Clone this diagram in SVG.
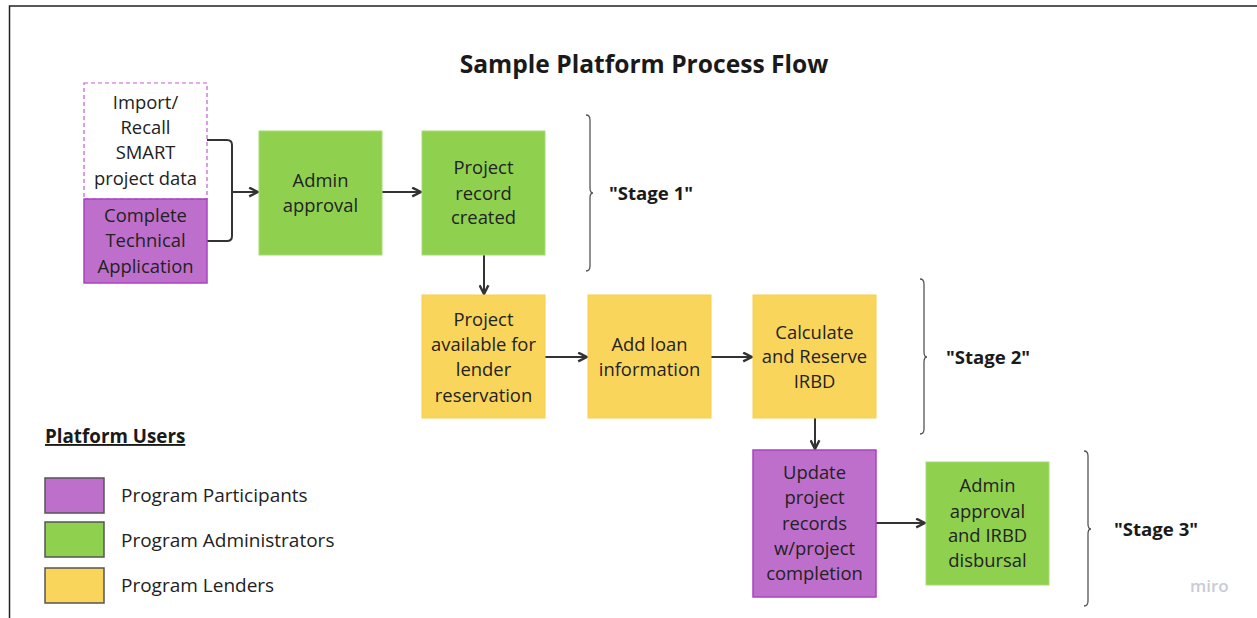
<svg xmlns="http://www.w3.org/2000/svg" width="1257" height="618" viewBox="0 0 1257 618">
  <style>
    .t { font-family: "Open Sans", "Noto Sans", sans-serif; font-size: 18.4px; fill: #222; text-anchor: middle; }
    .b { font-family: "Open Sans", "Noto Sans", sans-serif; font-weight: bold; fill: #1a1a1a; }
    .leg { font-family: "Open Sans", "Noto Sans", sans-serif; font-size: 19px; fill: #222; }
    .green { fill: #8fd14f; stroke: #a6dc72; stroke-width: 1; }
    .yellow { fill: #fad55c; stroke: #f7cf4a; stroke-width: 1; }
    .purple { fill: #be6fcb; stroke: #a843c2; stroke-width: 1.5; }
    .conn { fill: none; stroke: #333; stroke-width: 2; }
    .brace { fill: none; stroke: #555; stroke-width: 1.3; }
    .legbox { stroke: #555; stroke-width: 1.5; }
  </style>
  <defs>
    <marker id="arrow" viewBox="0 0 10 10" refX="9" refY="5" markerWidth="11" markerHeight="11" markerUnits="userSpaceOnUse" orient="auto">
      <path d="M1,1 L9,5 L1,9" fill="none" stroke="#333" stroke-width="2.2"/>
    </marker>
  </defs>

  <rect width="1257" height="618" fill="#fff"/>
  <!-- frame -->
  <path d="M9.5,618 V6 H1257" fill="none" stroke="#222" stroke-width="1.5"/>

  <text class="b" x="644" y="73" font-size="24.6" text-anchor="middle">Sample Platform Process Flow</text>

  <!-- connectors -->
  <g id="connectors">
    <path class="conn" d="M207,140 H227 Q232,140 232,145 V236 Q232,241 227,241 H207"/>
    <path class="conn" d="M232,192 H258" marker-end="url(#arrow)"/>
    <path class="conn" d="M382,192 H421" marker-end="url(#arrow)"/>
    <path class="conn" d="M484,255 V294" marker-end="url(#arrow)"/>
    <path class="conn" d="M545,357 H587" marker-end="url(#arrow)"/>
    <path class="conn" d="M711,357 H752" marker-end="url(#arrow)"/>
    <path class="conn" d="M815,418 V449" marker-end="url(#arrow)"/>
    <path class="conn" d="M876,523 H925" marker-end="url(#arrow)"/>
  </g>

  <g id="import">
    <rect x="84" y="83" width="123" height="116" fill="#fff" stroke="#c75ad6" stroke-width="1.2" stroke-dasharray="4,3"/>
    <text class="t"><tspan x="145.5" y="109">Import/</tspan><tspan x="145.5" y="134">Recall</tspan><tspan x="145.5" y="159">SMART</tspan><tspan x="145.5" y="185">project data</tspan></text>
  </g>
  <g id="complete-app">
    <rect class="purple" x="84" y="199" width="123" height="84"/>
    <text class="t"><tspan x="145.5" y="222">Complete</tspan><tspan x="145.5" y="247">Technical</tspan><tspan x="145.5" y="273">Application</tspan></text>
  </g>
  <g id="admin-approval">
    <rect class="green" x="259" y="131" width="123" height="124"/>
    <text class="t"><tspan x="320.5" y="187">Admin</tspan><tspan x="320.5" y="212">approval</tspan></text>
  </g>
  <g id="record-created">
    <rect class="green" x="422" y="131" width="123" height="124"/>
    <text class="t"><tspan x="483.5" y="174">Project</tspan><tspan x="483.5" y="200">record</tspan><tspan x="483.5" y="224">created</tspan></text>
  </g>
  <g id="available">
    <rect class="yellow" x="422" y="295" width="123" height="123"/>
    <text class="t"><tspan x="483.5" y="326">Project</tspan><tspan x="483.5" y="351">available for</tspan><tspan x="483.5" y="376">lender</tspan><tspan x="483.5" y="402">reservation</tspan></text>
  </g>
  <g id="loan-info">
    <rect class="yellow" x="588" y="295" width="123" height="123"/>
    <text class="t"><tspan x="649.5" y="351">Add loan</tspan><tspan x="649.5" y="376">information</tspan></text>
  </g>
  <g id="reserve">
    <rect class="yellow" x="753" y="295" width="123" height="123"/>
    <text class="t"><tspan x="814.5" y="339">Calculate</tspan><tspan x="814.5" y="363">and Reserve</tspan><tspan x="814.5" y="388">IRBD</tspan></text>
  </g>
  <g id="update-records">
    <rect class="purple" x="753" y="450" width="123" height="147"/>
    <text class="t"><tspan x="814.5" y="479">Update</tspan><tspan x="814.5" y="504">project</tspan><tspan x="814.5" y="530">records</tspan><tspan x="814.5" y="555">w/project</tspan><tspan x="814.5" y="580">completion</tspan></text>
  </g>
  <g id="disbursal">
    <rect class="green" x="926" y="462" width="123" height="123"/>
    <text class="t"><tspan x="987.5" y="492">Admin</tspan><tspan x="987.5" y="518">approval</tspan><tspan x="987.5" y="542">and IRBD</tspan><tspan x="987.5" y="567">disbursal</tspan></text>
  </g>

  <!-- stage braces -->
  <g id="stage1">
    <path class="brace" d="M586,115 Q590,115 590,120 V188 Q590,193 593,193 Q590,193 590,198 V266 Q590,271 586,271"/>
    <text class="b" x="609" y="200" font-size="18.6">"Stage 1"</text>
  </g>
  <g id="stage2">
    <path class="brace" d="M920,279 Q924,279 924,284 V352 Q924,357 927,357 Q924,357 924,362 V429 Q924,434 920,434"/>
    <text class="b" x="946" y="364" font-size="18.6">"Stage 2"</text>
  </g>
  <g id="stage3">
    <path class="brace" d="M1084,451 Q1088,451 1088,456 V524 Q1088,529 1091,529 Q1088,529 1088,534 V601 Q1088,606 1084,606"/>
    <text class="b" x="1114" y="536" font-size="18.6">"Stage 3"</text>
  </g>

  <!-- legend -->
  <g id="legend">
    <text class="b" x="45" y="443" font-size="18.8" text-decoration="underline">Platform Users</text>
    <rect class="legbox" x="45" y="478" width="59" height="35" fill="#be6fcb"/>
    <rect class="legbox" x="45" y="522" width="59" height="35" fill="#8fd14f"/>
    <rect class="legbox" x="45" y="568" width="59" height="35" fill="#fad55c"/>
    <text class="leg" x="121" y="502">Program Participants</text>
    <text class="leg" x="121" y="547">Program Administrators</text>
    <text class="leg" x="121" y="592">Program Lenders</text>
  </g>

  <text x="1190" y="592" font-family="'Open Sans', sans-serif" font-size="17" font-weight="600" fill="#c9cbd6">miro</text>
</svg>
